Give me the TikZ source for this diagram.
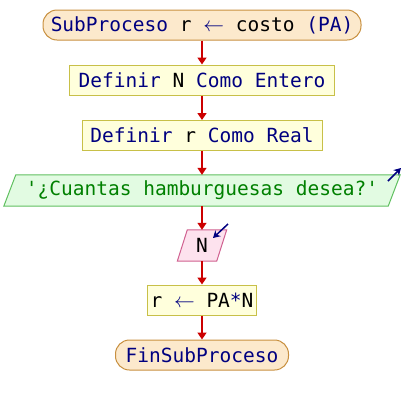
\documentclass[tikz,border=0pt]{standalone}
\usepackage{fontspec}
\newfontfamily\monof{DejaVu Sans Mono}
\usetikzlibrary{arrows.meta,calc}
\definecolor{kw}{HTML}{000080}
\definecolor{arr}{HTML}{CC0000}
\definecolor{termfill}{HTML}{FCE9CC}
\definecolor{termdraw}{HTML}{C89040}
\definecolor{boxfill}{HTML}{FFFFDC}
\definecolor{boxdraw}{HTML}{C8C048}
\definecolor{outfill}{HTML}{E2FBE2}
\definecolor{outdraw}{HTML}{60C060}
\definecolor{outtext}{HTML}{008000}
\definecolor{infill}{HTML}{FDE2EE}
\definecolor{indraw}{HTML}{D06090}
\newcommand{\larr}{\ensuremath{\leftarrow}}
\tikzset{
  every node/.style={inner sep=0pt, font=\monof\fontsize{19.5}{22}\selectfont},
  term/.style={rectangle, rounded corners=14pt, draw=termdraw, fill=termfill, line width=1pt, minimum height=30pt},
  procbox/.style={rectangle, draw=boxdraw, fill=boxfill, line width=1pt, minimum height=30pt},
  ghost/.style={rectangle, minimum height=31pt},
  flow/.style={draw=arr, line width=1.5pt, -{Triangle[width=9pt,length=7pt]}},
  hint/.style={draw=kw, line width=1.5pt, -{Stealth[width=8pt,length=7pt]}}
}
\begin{document}
\begin{tikzpicture}[x=1pt,y=-1pt]
\useasboundingbox (0,0) rectangle (404,405);
\node[term, minimum width=318pt] (start) at (202,25) {\color{kw}SubProceso \color{black}r \color{kw}\larr\ \color{black}costo \color{kw}(PA)};
\node[procbox, minimum width=265pt] (d1) at (202,80) {\color{kw}Definir \color{black}N \color{kw}Como Entero};
\node[procbox, minimum width=240pt] (d2) at (202,135.5) {\color{kw}Definir \color{black}r \color{kw}Como Real};
% output parallelogram
\node[ghost, minimum width=384pt] (out) at (202,190.5) {};
\filldraw[fill=outfill, draw=outdraw, line width=1pt]
  ($(out.north west)+(6,0)$) -- ($(out.north east)+(6,0)$) -- ($(out.south east)+(-6,0)$) -- ($(out.south west)+(-6,0)$) -- cycle;
\node[text=outtext] (outtxt) at (out.center) {'¿Cuantas hamburguesas desea?'};
% input parallelogram
\node[ghost, minimum width=39pt] (in) at (202,245.5) {};
\filldraw[fill=infill, draw=indraw, line width=1pt]
  ($(in.north west)+(5,0)$) -- ($(in.north east)+(5,0)$) -- ($(in.south east)+(-5,0)$) -- ($(in.south west)+(-5,0)$) -- cycle;
\node (intxt) at (in.center) {N};
\node[procbox, minimum width=109pt] (asg) at (202,300) {r \color{kw}\larr\ \color{black}PA\color{kw}*\color{black}N};
\node[term, minimum width=173pt] (fin) at (202,355) {\color{kw}FinSubProceso};
% hint arrows
\coordinate (oa) at (388,181);
\coordinate (ob) at (401,168);
\draw[hint] (oa) -- (ob);
\coordinate (ia) at (228,224);
\coordinate (ib) at (213,238);
\draw[hint] (ia) -- (ib);
% connectors
\draw[flow] (start.south) -- (d1.north);
\draw[flow] (d1.south) -- (d2.north);
\draw[flow] (d2.south) -- (out.north);
\draw[flow] (out.south) -- (in.north);
\draw[flow] (in.south) -- (asg.north);
\draw[flow] (asg.south) -- (fin.north);
\end{tikzpicture}
\end{document}
